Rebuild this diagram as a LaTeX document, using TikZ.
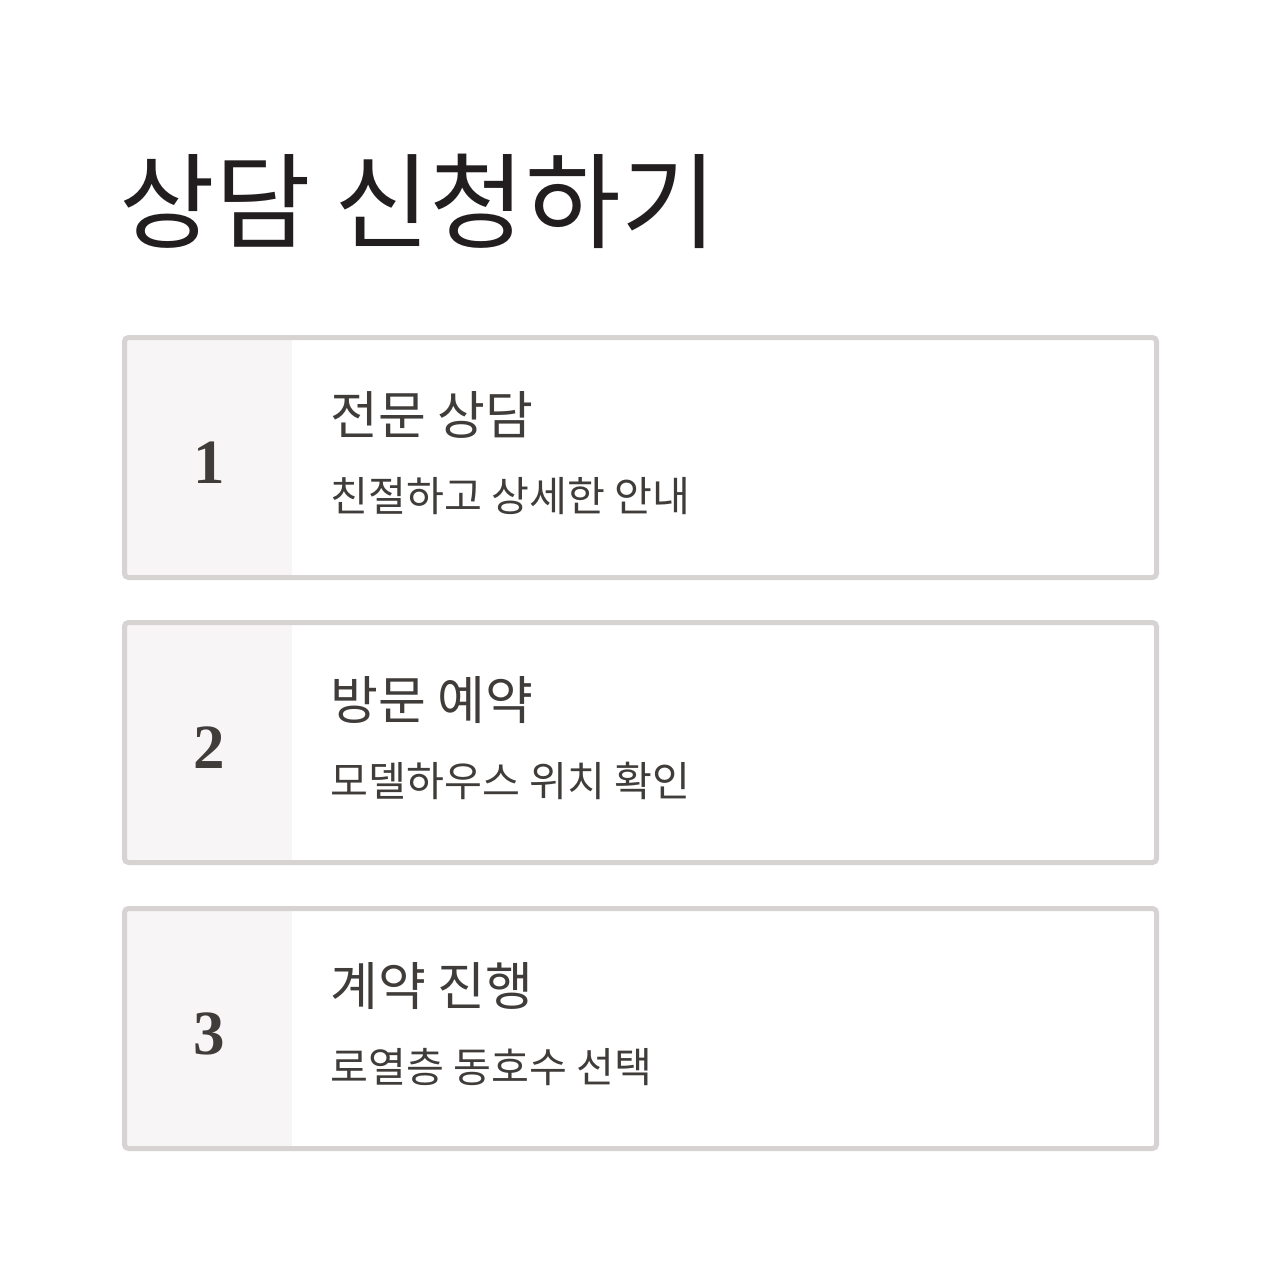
\documentclass[tikz,border=0pt]{standalone}
\usepackage{fontspec}
\setmainfont{Liberation Serif}
\newfontfamily\krfont{Noto Sans CJK KR}
\newfontfamily\numfont{Liberation Serif}
\definecolor{boxline}{HTML}{D7D3D3}
\definecolor{panelgrey}{HTML}{F7F5F6}
\definecolor{bodytext}{HTML}{3F3C3A}
\definecolor{titletext}{HTML}{221E1F}
\tikzset{
  stepbox/.style={draw=boxline, line width=2.5pt, rounded corners=2pt, minimum width=516pt, minimum height=120pt, inner sep=0pt},
  numpanel/.style={fill=panelgrey, minimum width=82.5pt, minimum height=117.5pt, inner sep=0pt},
  numtext/.style={font=\numfont\bfseries\fontsize{31.5pt}{32pt}\selectfont, text=bodytext, anchor=base, inner sep=0pt},
  headtext/.style={font=\krfont\fontsize{26pt}{28pt}\selectfont, text=bodytext, anchor=base west, inner sep=0pt},
  subtext/.style={font=\krfont\fontsize{20.6pt}{22pt}\selectfont, text=bodytext, anchor=base west, inner sep=0pt},
  titlestyle/.style={font=\krfont\fontsize{52pt}{54pt}\selectfont, text=titletext, anchor=base west, inner sep=0pt}
}
\begin{document}
\begin{tikzpicture}[x=0.5pt,y=-0.5pt]
\useasboundingbox (0,0) rectangle (1280,1280);
\fill[white] (0,0) rectangle (1280,1280);
\node[titlestyle] (title) at (119,240) {상담 신청하기};
\foreach \i/\dy/\head/\sub in {1/0/전문 상담/친절하고 상세한 안내, 2/285/방문 예약/모델하우스 위치 확인, 3/571/계약 진행/로열층 동호수 선택}{
  \node[numpanel] (panel\i) at (209.5,457.5+\dy) {};
  \node[stepbox] (box\i) at (640.5,457.5+\dy) {};
  \node[numtext] (num\i) at (209.5,483+\dy) {\i};
  \node[headtext] (head\i) at (330,434+\dy) {\head};
  \node[subtext] (sub\i) at (330,511+\dy) {\sub};
}
\end{tikzpicture}
\end{document}
